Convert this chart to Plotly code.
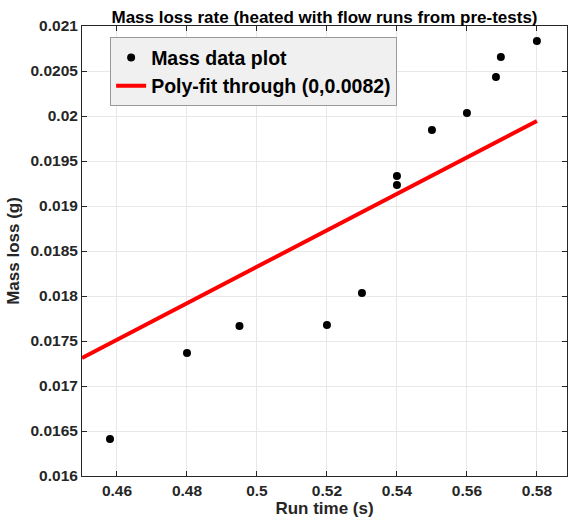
import plotly.graph_objects as go

run_time = [0.458, 0.48, 0.495, 0.52, 0.53, 0.54, 0.54, 0.55, 0.56, 0.5683, 0.5697, 0.58]
mass_loss = [0.01641, 0.017367, 0.017667, 0.017678, 0.018033, 0.019333, 0.019233,
             0.019844, 0.020033, 0.020433, 0.020656, 0.020833]

fit_x = [0.45, 0.58]
fit_y = [0.017312, 0.019945]

x_ticks = [0.46, 0.48, 0.5, 0.52, 0.54, 0.56, 0.58]
x_ticktext = ["0.46", "0.48", "0.5", "0.52", "0.54", "0.56", "0.58"]
y_ticks = [0.016, 0.0165, 0.017, 0.0175, 0.018, 0.0185, 0.019, 0.0195, 0.02, 0.0205, 0.021]
y_ticktext = ["0.016", "0.0165", "0.017", "0.0175", "0.018", "0.0185", "0.019",
              "0.0195", "0.02", "0.0205", "0.021"]

FONT = "Liberation Sans, Arial, sans-serif"

fig = go.Figure()
fig.add_trace(go.Scatter(x=run_time, y=mass_loss, mode="markers",
                         marker=dict(color="black", size=8),
                         name="Mass data plot"))
fig.add_trace(go.Scatter(x=fit_x, y=fit_y, mode="lines",
                         line=dict(color="#ff0000", width=4),
                         name="Poly-fit through (0,0.0082)"))

axis_common = dict(showgrid=True, gridcolor="#e8e8e8", gridwidth=1,
                   showline=True, linecolor="#262626", linewidth=1, mirror="ticks",
                   ticks="inside", ticklen=5, tickcolor="#262626",
                   zeroline=False,
                   tickfont=dict(family=FONT, size=15.5, color="#262626", weight="bold"))

fig.update_xaxes(range=[0.45, 0.5886], tickvals=x_ticks, ticktext=x_ticktext,
                 title=dict(text="Run time (s)", standoff=4,
                            font=dict(family=FONT, size=17, color="#262626", weight="bold")),
                 **axis_common)
fig.update_yaxes(range=[0.016, 0.021], tickvals=y_ticks, ticktext=y_ticktext,
                 title=dict(text="Mass loss (g)", standoff=6,
                            font=dict(family=FONT, size=17, color="#262626", weight="bold")),
                 **axis_common)

fig.update_layout(
    width=570, height=524,
    margin=dict(l=82, r=3, t=26, b=48),
    plot_bgcolor="white", paper_bgcolor="white",
    title=dict(text="Mass loss rate (heated with flow runs from pre-tests)",
               x=0.5, xref="paper", y=1, yref="paper", yanchor="bottom", pad=dict(b=3),
               font=dict(family=FONT, size=17, color="black", weight="bold")),
    legend=dict(x=0.058, y=0.975, xanchor="left", yanchor="top",
                bgcolor="#f0f0f0", bordercolor="#999999", borderwidth=1,
                font=dict(family=FONT, size=19.5, color="black", weight="bold"),
                tracegroupgap=0, itemwidth=30),
    showlegend=True,
)

fig.write_html("out.html")
